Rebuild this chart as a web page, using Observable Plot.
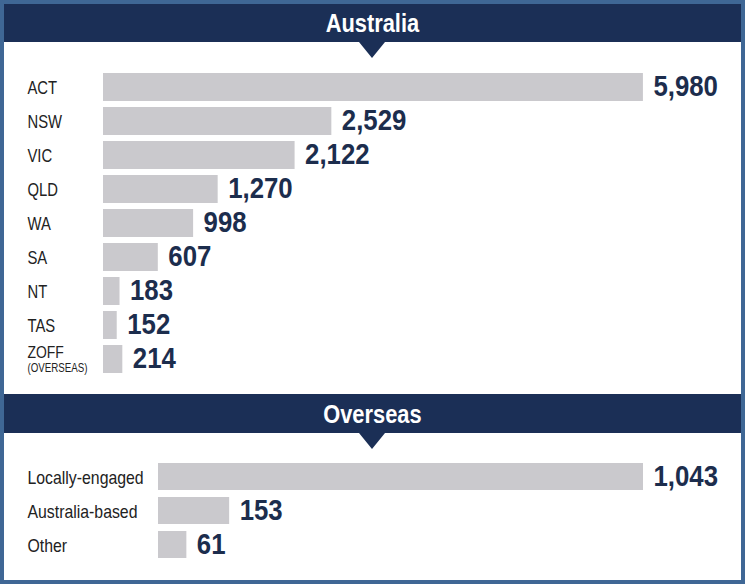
<!DOCTYPE html>
<html><head><meta charset="utf-8">
<script src="https://cdn.jsdelivr.net/npm/d3@7"></script>
<script src="https://cdn.jsdelivr.net/npm/@observablehq/plot@0.6"></script>
<style>
body{margin:0;background:#fff;}
#wrap{position:relative;width:745px;height:584px;overflow:hidden;background:#fff;font-family:"Liberation Sans",Arial,sans-serif;}
.hdr{position:absolute;left:0;width:745px;background:#1b2f56;z-index:2;}
.hdr span{position:absolute;left:0;width:745px;text-align:center;color:#fff;font-weight:bold;font-size:26px;line-height:26px;transform:scaleX(0.84);transform-origin:372px 0;}
.hdr::after{content:"";position:absolute;left:359px;top:100%;border-left:13px solid transparent;border-right:13px solid transparent;border-top:16px solid #1b2f56;}
#frame{position:absolute;left:0;top:0;width:745px;height:584px;border:4px solid #3f6795;pointer-events:none;box-sizing:border-box;z-index:3;}
.chart{position:absolute;left:0;z-index:1;}
</style>
</head><body>
<div id="wrap">
  <div class="hdr" style="top:0;height:42px;"><span style="top:10px;">Australia</span></div>
  <div class="chart" id="c1" style="top:42px;"></div>
  <div class="hdr" style="top:394px;height:39px;"><span style="top:7px;">Overseas</span></div>
  <div class="chart" id="c2" style="top:433px;"></div>
  <div id="frame"></div>
</div>
<script>
const ausCategories = ["ACT","NSW","VIC","QLD","WA","SA","NT","TAS","ZOFF"];
const ausValues = [5980,2529,2122,1270,998,607,183,152,214];
const ausSubLabels = ["","","","","","","","","(OVERSEAS)"];

const osCategories = ["Locally-engaged","Australia-based","Other"];
const osValues = [1043,153,61];

const FONT = '"Liberation Sans",Arial,sans-serif';
const BAR = "#cac9cd";
const NAVY = "#1c2d4d";
const fmt = d3.format(",");

const aus = ausCategories.map((c,i)=>({cat:c, value:ausValues[i], sub:ausSubLabels[i]}));
const os = osCategories.map((c,i)=>({cat:c, value:osValues[i]}));

// horizontally condense the glyphs of every text in a text-mark group
function condense(svg, scales){
  const groups = svg.querySelectorAll('g[aria-label="text"]');
  groups.forEach((g,i)=>{
    const s = scales[i]; if (!s) return;
    g.querySelectorAll("text").forEach(t=>{
      const tr = t.getAttribute("transform");
      if (tr) t.setAttribute("transform", tr + ` scale(${s},1)`);
      else {
        const x = +t.getAttribute("x") || 0;
        t.setAttribute("transform", `translate(${x*(1-s)},0) scale(${s},1)`);
      }
    });
  });
}

const chart1 = Plot.plot({
  width:745, height:352,
  marginLeft:103, marginRight:10, marginTop:24, marginBottom:14,
  style:{fontFamily:FONT, background:"white"},
  x:{domain:[0,7000], axis:null},
  y:{domain:ausCategories, padding:0.18, axis:null},
  marks:[
    Plot.barX(aus,{x:"value", y:"cat", fill:BAR}),
    Plot.text(aus,{x:"value", y:"cat", text:d=>fmt(d.value), dx:10, dy:-1, textAnchor:"start", fontSize:30, fontWeight:"bold", fill:NAVY}),
    Plot.text(aus.filter(d=>!d.sub),{y:"cat", text:"cat", frameAnchor:"left", dx:-76, textAnchor:"start", fontSize:19, fill:"#222"}),
    Plot.text(aus.filter(d=>d.sub),{y:"cat", text:"cat", frameAnchor:"left", dx:-76, dy:-7, textAnchor:"start", fontSize:17, fill:"#222"}),
    Plot.text(aus.filter(d=>d.sub),{y:"cat", text:"sub", frameAnchor:"left", dx:-76, dy:8, textAnchor:"start", fontSize:12.5, fill:"#222"}),
  ]
});
condense(chart1, [0.86, 0.78, 0.82, 0.78]);
document.getElementById("c1").appendChild(chart1);

const chart2 = Plot.plot({
  width:745, height:151,
  marginLeft:158, marginRight:29, marginTop:22, marginBottom:18,
  style:{fontFamily:FONT, background:"white"},
  x:{domain:[0,1200], axis:null},
  y:{domain:osCategories, padding:0.2, axis:null},
  marks:[
    Plot.barX(os,{x:"value", y:"cat", fill:BAR}),
    Plot.text(os,{x:"value", y:"cat", text:d=>fmt(d.value), dx:10, dy:-1, textAnchor:"start", fontSize:30, fontWeight:"bold", fill:NAVY}),
    Plot.text(os,{y:"cat", text:"cat", frameAnchor:"left", dx:-131, dy:1.5, textAnchor:"start", fontSize:18, fill:"#222"}),
  ]
});
condense(chart2, [0.86, 0.88]);
document.getElementById("c2").appendChild(chart2);
</script>
</body></html>
